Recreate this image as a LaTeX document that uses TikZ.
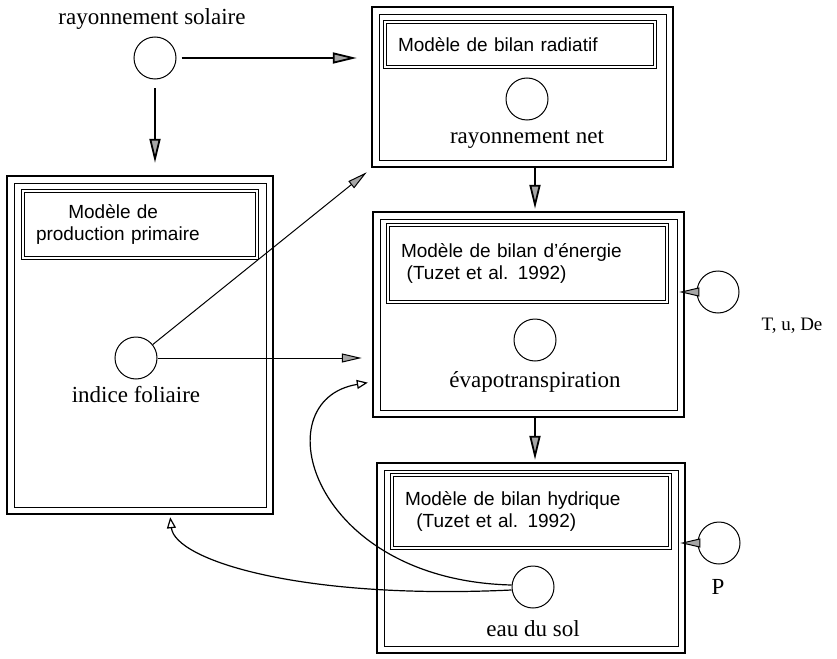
\documentclass[tikz,border=0pt]{standalone}
\usepackage{fontspec}
\setmainfont{Liberation Serif}
\setsansfont{Liberation Sans}
\usetikzlibrary{arrows.meta, positioning}

\tikzset{
  modelbox/.style={draw, line width=2.5pt, inner sep=0pt,
    path picture={\draw[line width=0.9pt]
      ([shift={(7pt,7pt)}]path picture bounding box.south west) rectangle
      ([shift={(-7pt,-7pt)}]path picture bounding box.north east);}},
  titlebox/.style={draw, double, line width=0.8pt, double distance=2pt,
    align=left, inner xsep=13pt, font=\sffamily\fontsize{19}{22}\selectfont},
  varnode/.style={circle, draw, line width=1pt, minimum size=42pt, inner sep=0pt},
  varlabel/.style={font=\fontsize{23}{27}\selectfont, inner sep=1pt},
  flux/.style={line width=1.8pt, -{Triangle[length=24pt, width=11pt, fill=gray!70]}},
  thinflux/.style={line width=1pt, -{Triangle[length=20pt, width=9pt, fill=gray!70]}},
  retour/.style={line width=1.2pt, -{Triangle[open, length=11pt, width=9pt]}}
}

\begin{document}
\begin{tikzpicture}[x=1pt, y=-1pt]
\fill[white] (0,0) rectangle (837,658);
\useasboundingbox (0,0) rectangle (837,658);

% les modeles
\node[modelbox, minimum width=266pt, minimum height=338pt] (prim) at (140,345) {};
\node[titlebox, text width=208pt, minimum height=67pt] (primtitle) at (140,224.5)
  {\hspace*{1.7em}Modèle de\\production primaire};
\node[modelbox, minimum width=301pt, minimum height=160pt] (radia) at (522.5,87) {};
\node[titlebox, text width=244pt, minimum height=45pt] (radiatitle) at (520,44.5)
  {Modèle de bilan radiatif};
\node[modelbox, minimum width=311pt, minimum height=205pt] (energ) at (528.5,314.5) {};
\node[titlebox, text width=253pt, minimum height=77pt] (energtitle) at (527.5,263.5)
  {Modèle de bilan d'énergie\\\hspace*{0.3em}(Tuzet et al. 1992)};
\node[modelbox, minimum width=308pt, minimum height=190pt] (hydr) at (531,558) {};
\node[titlebox, text width=252pt, minimum height=73pt] (hydrtitle) at (531,511.5)
  {Modèle de bilan hydrique\\\hspace*{0.6em}(Tuzet et al. 1992)};

% les variables
\node[varnode] (sol) at (155,58) {};
\node[varlabel] (sollab) at (152,19) {rayonnement solaire};
\node[varnode] (rnet) at (527,99) {};
\node[varlabel] (rnetlab) at (527,140) {rayonnement net};
\node[varnode] (feuil) at (136,358) {};
\node[varlabel] (feuillab) at (136,395) {indice foliaire};
\node[varnode] (evap) at (535,340) {};
\node[varlabel] (evaplab) at (535,382) {évapotranspiration};
\node[varnode] (meteo) at (718,292) {};
\node[varlabel, font=\fontsize{19}{23}\selectfont] (meteolab) at (792,326) {T, u, De};
\node[varnode] (eau) at (533,587) {};
\node[varlabel] (eaulab) at (533,629) {eau du sol};
\node[varnode] (pluie) at (719,543) {};
\node[varlabel] (pluielab) at (718,587) {P};

% les flux
\draw[flux, shorten <=5pt, shorten >=14pt] (sol) -- (radia.west |- sol);
\draw[flux, shorten <=9pt, shorten >=12pt] (sol) -- (prim.north -| sol);
\draw[thinflux] (feuil) -- ([shift={(-4pt,-4pt)}]radia.south west);
\draw[thinflux, shorten >=10pt] (feuil) -- (energ.west |- feuil);
\draw[flux, shorten >=2pt] (radia.south -| evap) -- (energ.north -| evap);
\draw[flux, shorten >=2pt] (energ.south -| evap) -- (hydr.north -| evap);
\draw[thinflux] (meteo) -- ([xshift=-6pt]energ.east |- meteo);
\draw[thinflux] (pluie) -- ([xshift=-6pt]hydr.east |- pluie);
\draw[retour, shorten >=4pt] ([yshift=2pt]eau.west) .. controls (310,580) and (262,400) .. (energ.west |- evaplab);
\draw[retour, shorten >=2pt] ([yshift=-3pt]eau.west) .. controls (300,600) and (175,560) .. ([xshift=30pt]prim.south);
\end{tikzpicture}
\end{document}
